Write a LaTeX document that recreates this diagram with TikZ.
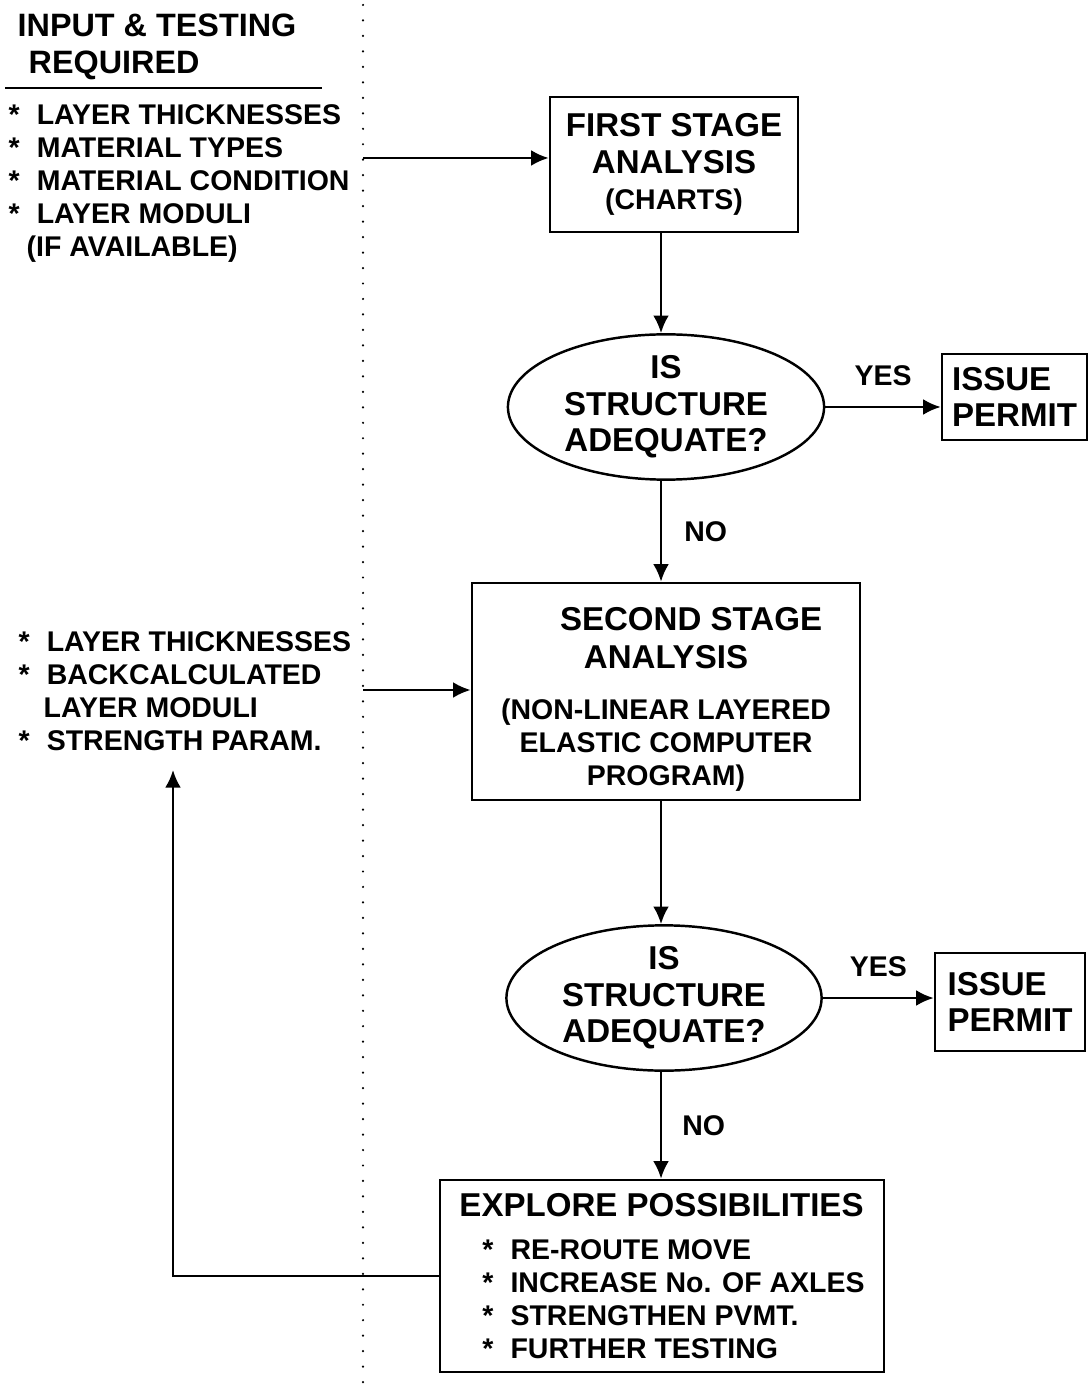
\documentclass[tikz,border=0pt]{standalone}
\usepackage{fontspec}
\setmainfont{Liberation Sans}
\usetikzlibrary{arrows.meta,shapes.geometric}

\newcommand{\headfont}{\fontsize{9.2}{10.5}\selectfont\bfseries}
\newcommand{\titlefont}{\fontsize{9.4}{10.4}\selectfont\bfseries}
\newcommand{\itemfont}{\fontsize{8.1}{9.4}\selectfont\bfseries}
\newcommand{\itembul}{*\hspace{0.17cm}}

\tikzset{
  stagebox/.style={draw, line width=0.7pt, inner sep=0pt, align=center},
  permit/.style={draw, line width=0.7pt, inner sep=0pt, align=left, font=\titlefont},
  decision/.style={draw, ellipse, line width=0.7pt, inner sep=0pt, align=center, font=\titlefont},
  inputs/.style={anchor=north west, inner sep=0pt, align=left, font=\itemfont},
  flow/.style={line width=0.7pt, -{Latex[length=5pt,width=4.5pt]}},
  answer/.style={font=\itemfont, inner sep=0pt},
  divider/.style={line width=0.7pt, line cap=round, dash pattern=on 0pt off 4.4pt},
}

\begin{document}
\begin{tikzpicture}[x=0.01cm, y=-0.01cm]
  \useasboundingbox (0,0) rectangle (1089,1389);

  % inputs on the left
  \draw[divider] (363,5) -- (363,1389);
  \node[anchor=north west, inner sep=0pt, align=left, font=\headfont] (head) at (17,13)
    {INPUT \& TESTING\\\hspace*{0.11cm}REQUIRED};
  \draw[line width=0.7pt] (5,88) -- (322,88);
  \node[inputs] (input1) at (8,104)
    {\itembul LAYER THICKNESSES\\\itembul MATERIAL TYPES\\\itembul MATERIAL CONDITION\\
     \itembul LAYER MODULI\\\hspace*{0.18cm}(IF AVAILABLE)};
  \node[inputs] (input2) at (18,631)
    {\itembul LAYER THICKNESSES\\\itembul BACKCALCULATED\\\hspace*{0.25cm}LAYER MODULI\\
     \itembul STRENGTH PARAM.};
  \coordinate (in1) at (363,158);
  \coordinate (in2) at (363,690);
  \coordinate (back) at (173,770);

  % analysis
  \node[stagebox, minimum width=2.48cm, minimum height=1.35cm, font=\titlefont] (first) at (674,164.5)
    {FIRST STAGE\\ANALYSIS\\{\itemfont (CHARTS)}};
  \node[decision, minimum width=3.16cm, minimum height=1.25cm] (dec1) at (666,407)
    {IS\\STRUCTURE\\ADEQUATE?};
  \node[permit, minimum width=1.45cm, minimum height=0.86cm] (permit1) at (1014.5,397)
    {ISSUE\\PERMIT};
  \node[stagebox, minimum width=3.88cm, minimum height=2.17cm] (second) at (666,691.5) {};
  \node[inner sep=0pt, align=center, font=\itemfont] (secondtext) at ([yshift=-0.08cm]second.center)
    {\hspace*{0.5cm}{\titlefont SECOND STAGE}\\[1.4pt]{\titlefont ANALYSIS}\\[5.2pt]%
     (NON-LINEAR LAYERED\\ELASTIC COMPUTER\\PROGRAM)};
  \node[decision, minimum width=3.15cm, minimum height=1.36cm] (dec2) at (664,998)
    {IS\\STRUCTURE\\ADEQUATE?};
  \node[permit, minimum width=1.5cm, minimum height=0.98cm] (permit2) at (1010,1002)
    {ISSUE\\PERMIT};
  \node[stagebox, align=left, minimum width=4.44cm, minimum height=1.92cm, font=\itemfont] (third) at (662,1276)
    {{\titlefont EXPLORE POSSIBILITIES}\\[2.7pt]
     \hspace*{0.23cm}\itembul RE-ROUTE MOVE\\\hspace*{0.23cm}\itembul INCREASE No. OF AXLES\\
     \hspace*{0.23cm}\itembul STRENGTHEN PVMT.\\\hspace*{0.23cm}\itembul FURTHER TESTING};

  \draw[flow] (in1) -- (in1 -| first.west);
  \draw[flow] (first.south -| 661,0) -- (661,0 |- dec1.north);
  \draw[flow] (dec1.east) -- node[answer, above=0.2cm] (yes1) {YES} (dec1.east -| permit1.west);
  \draw[flow] (661,0 |- dec1.south) -- node[answer, anchor=west, xshift=0.22cm] (no1) {NO} (second.north -| 661,0);
  \draw[flow] (in2) -- (in2 -| second.west);
  \draw[flow] (second.south -| 661,0) -- (661,0 |- dec2.north);
  \draw[flow] (dec2.east) -- node[answer, above=0.2cm] (yes2) {YES} (dec2.east -| permit2.west);
  \draw[flow] (661,0 |- dec2.south) -- node[answer, anchor=west, xshift=0.2cm] (no2) {NO} (third.north -| 661,0);
  \draw[flow] (third.west) -| (back);
\end{tikzpicture}
\end{document}
